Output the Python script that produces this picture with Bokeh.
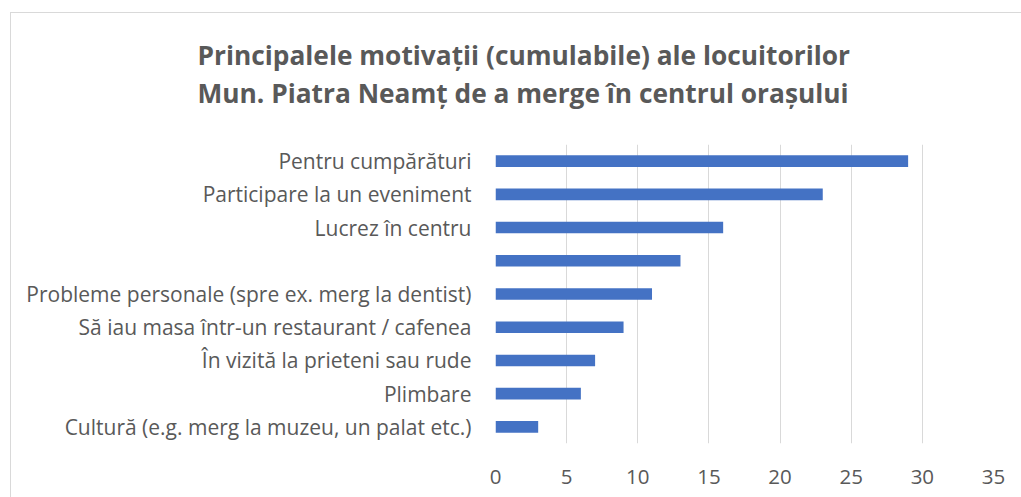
from bokeh.plotting import figure
from bokeh.models import Range1d, FactorRange, ColumnDataSource, FixedTicker, InlineStyleSheet
from bokeh.embed import file_html
from bokeh.resources import INLINE

# data (top to bottom as in the chart)
categories = [
    "Pentru cumpărături",
    "Participare la un eveniment",
    "Lucrez în centru",
    " ",
    "Probleme personale (spre ex. merg la dentist)",
    "Să iau masa într-un restaurant / cafenea",
    "În vizită la prieteni sau rude",
    "Plimbare",
    "Cultură (e.g. merg la muzeu, un palat etc.)",
]
values = [29, 23, 16, 13, 11, 9, 7, 6, 3]
x_ticks = [0, 5, 10, 15, 20, 25, 30, 35]
title_lines = [
    "Principalele motivații (cumulabile) ale locuitorilor",
    "Mun. Piatra Neamț de a merge în centrul orașului",
]

TEXT = "#595959"
FONT = "Open Sans"

cats_bottom_up = list(reversed(categories))
src = ColumnDataSource(dict(cat=categories, val=values))

p = figure(
    width=1021, height=497,
    y_range=FactorRange(factors=cats_bottom_up),
    x_range=Range1d(0, 35),
    output_backend="svg", toolbar_location=None,
    min_border_left=495, min_border_right=28,
    min_border_top=144, min_border_bottom=54,
)
p.outline_line_color = None
p.background_fill_color = "white"
p.border_fill_color = "white"

p.hbar(y="cat", right="val", left=0, height=0.35, source=src,
       fill_color="#4472C4", line_color=None)

p.xgrid.grid_line_color = "#d9d9d9"
p.xgrid.grid_line_width = 1
p.ygrid.grid_line_color = None
p.xaxis.ticker = FixedTicker(ticks=x_ticks)

for ax in (p.xaxis[0], p.yaxis[0]):
    ax.axis_line_color = None
    ax.major_tick_line_color = None
    ax.minor_tick_line_color = None
    ax.major_tick_out = 0
    ax.major_tick_in = 0
    ax.major_label_text_color = TEXT
    ax.major_label_text_font = FONT

p.yaxis.major_label_text_font_size = "21px"
p.xaxis.major_label_text_font_size = "20.5px"
p.yaxis.major_label_standoff = 24
p.xaxis.major_label_standoff = 26

# two-line title
p.title.text = "\n".join(title_lines)
p.title.align = "left"
p.title.offset = -298
p.title.text_font = FONT
p.title.text_font_style = "bold"
p.title.text_font_size = "26.3px"
p.title.text_line_height = 1.07
p.title.text_color = TEXT
p.title.standoff = 66

# light chart border (only its left and top edges fall inside the picture)
p.stylesheets = [InlineStyleSheet(css="""
:host { position: relative; overflow: hidden; }
:host::after {
  content: ""; position: absolute; left: 10px; top: 12px;
  width: 3000px; height: 3000px;
  border: 1.5px solid #d9d9d9; pointer-events: none;
}
""")]

open("out.html", "w").write(file_html(p, INLINE))
